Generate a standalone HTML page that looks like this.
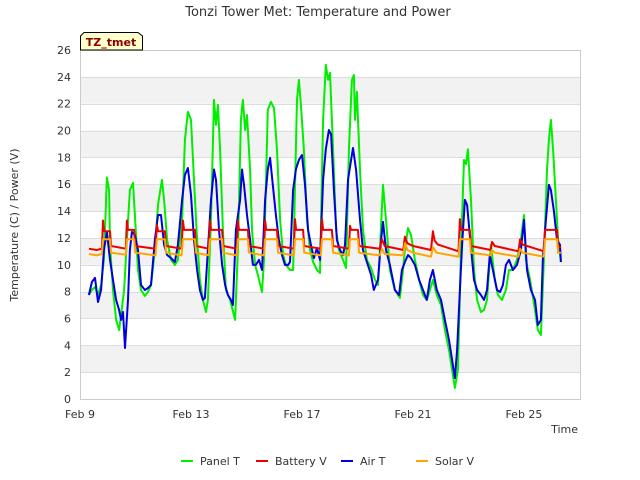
<!DOCTYPE html>
<html><head><meta charset="utf-8"><style>
body{margin:0;background:#fff;}
svg{display:block;font-family:"DejaVu Sans","Liberation Sans",sans-serif;}
</style></head><body>
<svg id="c" width="640" height="480" viewBox="0 0 640 480">
<text x="318" y="16" text-anchor="middle" font-size="13" fill="#333">Tonzi Tower Met: Temperature and Power</text>
<g id="bands"></g>
<g id="grid"></g>
<rect x="80.5" y="50.5" width="500" height="349" fill="none" stroke="#ccc"/>
<g id="yt"></g><g id="xt"></g>
<g id="series"></g>
<text transform="translate(18,225) rotate(-90)" text-anchor="middle" font-size="11" fill="#333">Temperature (C) / Power (V)</text>
<text x="578" y="433" text-anchor="end" font-size="11" fill="#333">Time</text>
<g>
<path d="M80.5,50 L80.5,36 L84,32.5 L138,32.5 L142.5,36 L142.5,50 Z" fill="#ffffcc" stroke="#000"/>
<text x="111" y="46" text-anchor="middle" font-size="11" font-weight="bold" fill="#8b0000">TZ_tmet</text>
</g>
<g id="legend"></g>
</svg>
<script>
const yTicks=[0,2,4,6,8,10,12,14,16,18,20,22,24,26];
const xTickDays=[0,4,8,12,16];
const xTickLabels=["Feb 9","Feb 13","Feb 17","Feb 21","Feb 25"];
const seriesNames=["Panel T","Battery V","Air T","Solar V"];
const seriesColors=["#00ee00","#ee0000","#0000dd","#ffa500"];
const panelT=[[0.32,7.75],[0.43,8.12],[0.54,8.35],[0.65,7.75],[0.76,8.49],[0.86,10.36],[0.97,16.5],[1.05,15.57],[1.08,11.48],[1.19,8.12],[1.30,5.89],[1.41,5.14],[1.48,6.26],[1.59,8.12],[1.69,11.85],[1.80,15.57],[1.91,16.1],[1.98,13.71],[2.09,9.61],[2.20,8.12],[2.34,7.68],[2.45,7.97],[2.56,8.49],[2.70,11.10],[2.81,14.46],[2.95,16.32],[3.03,14.83],[3.14,11.85],[3.28,10.36],[3.42,9.99],[3.53,10.36],[3.68,13.34],[3.78,19.30],[3.89,21.39],[4.00,20.79],[4.11,16.32],[4.22,11.85],[4.32,8.87],[4.43,7.38],[4.54,6.48],[4.61,7.38],[4.72,13.34],[4.83,22.28],[4.90,20.42],[4.97,21.91],[5.05,18.55],[5.15,12.59],[5.26,8.12],[5.41,7.38],[5.59,5.89],[5.69,11.10],[5.80,20.79],[5.87,22.28],[5.95,20.04],[6.02,21.16],[6.13,17.06],[6.20,12.59],[6.31,9.99],[6.41,9.24],[6.56,7.97],[6.63,10.36],[6.77,21.54],[6.88,22.13],[6.99,21.68],[7.10,18.55],[7.21,13.34],[7.32,10.73],[7.42,9.99],[7.57,9.61],[7.68,9.61],[7.82,22.28],[7.89,23.77],[7.96,21.91],[8.07,18.55],[8.18,13.34],[8.29,11.10],[8.40,10.21],[8.54,9.61],[8.65,9.39],[8.76,20.79],[8.86,24.89],[8.94,23.77],[9.01,24.3],[9.12,18.55],[9.23,12.59],[9.33,11.10],[9.48,10.36],[9.59,9.76],[9.69,18.55],[9.80,23.77],[9.87,24.14],[9.91,20.79],[9.98,22.88],[10.09,17.06],[10.20,12.59],[10.34,10.36],[10.49,9.76],[10.63,8.87],[10.74,8.49],[10.81,11.10],[10.92,15.95],[11.03,13.34],[11.17,9.61],[11.35,8.12],[11.53,7.53],[11.64,9.61],[11.71,11.10],[11.82,12.74],[11.93,12.22],[12.07,10.36],[12.22,8.87],[12.36,7.75],[12.50,7.38],[12.61,8.12],[12.72,8.87],[12.86,7.75],[13.01,7.00],[13.15,5.14],[13.30,3.65],[13.41,2.16],[13.51,0.82],[13.62,2.16],[13.73,11.10],[13.84,17.81],[13.91,17.5],[13.98,18.6],[14.09,14.83],[14.20,9.61],[14.31,7.38],[14.45,6.48],[14.56,6.63],[14.67,7.38],[14.81,11.48],[14.95,8.87],[15.06,7.75],[15.21,7.38],[15.35,8.12],[15.46,9.61],[15.60,9.61],[15.75,10.36],[15.89,11.85],[16.00,13.71],[16.07,10.36],[16.22,8.87],[16.40,6.63],[16.50,5.14],[16.61,4.77],[16.72,10.36],[16.83,17.06],[16.90,19.30],[16.97,20.79],[17.05,18.55],[17.15,14.83],[17.23,11.85],[17.33,10.21]];
const airT=[[0.32,7.75],[0.43,8.72],[0.54,9.02],[0.65,7.23],[0.76,8.12],[0.86,11.10],[0.97,12.44],[1.08,10.36],[1.19,8.87],[1.30,7.38],[1.41,6.63],[1.48,5.89],[1.55,6.48],[1.62,3.80],[1.73,7.38],[1.80,11.10],[1.87,12.44],[1.98,12.22],[2.09,11.10],[2.20,8.49],[2.34,8.12],[2.45,8.27],[2.56,8.49],[2.70,11.85],[2.81,13.71],[2.92,13.71],[3.03,11.48],[3.14,10.73],[3.28,10.5],[3.42,10.21],[3.53,11.48],[3.68,14.83],[3.78,16.69],[3.89,17.21],[4.00,15.20],[4.11,11.85],[4.22,9.61],[4.32,8.12],[4.43,7.38],[4.50,7.53],[4.61,11.10],[4.72,14.83],[4.83,17.1],[4.90,16.32],[5.01,12.59],[5.12,9.99],[5.23,8.49],[5.33,7.75],[5.44,7.38],[5.51,7.00],[5.62,12.59],[5.77,14.83],[5.84,17.1],[5.91,15.95],[6.02,13.71],[6.13,11.85],[6.23,9.99],[6.34,9.99],[6.45,10.36],[6.56,9.61],[6.67,14.83],[6.77,17.1],[6.85,17.96],[6.95,15.95],[7.06,13.71],[7.17,11.85],[7.28,10.73],[7.39,9.99],[7.50,9.99],[7.57,10.21],[7.68,15.57],[7.78,17.1],[7.89,17.81],[8.00,18.18],[8.11,15.95],[8.22,12.59],[8.32,11.48],[8.43,10.5],[8.54,11.25],[8.65,10.36],[8.76,16.32],[8.86,18.6],[8.97,20.04],[9.05,19.7],[9.15,15.57],[9.26,11.85],[9.37,11.10],[9.48,10.73],[9.55,11.48],[9.66,16.32],[9.77,17.81],[9.84,18.70],[9.95,17.06],[10.09,13.34],[10.20,11.10],[10.34,10.21],[10.49,9.24],[10.59,8.12],[10.74,8.87],[10.85,11.85],[10.92,13.19],[11.03,11.10],[11.17,9.99],[11.35,8.12],[11.50,7.75],[11.60,9.61],[11.71,10.21],[11.82,10.73],[11.93,10.5],[12.07,9.99],[12.22,8.87],[12.36,8.12],[12.50,7.38],[12.61,8.87],[12.72,9.61],[12.86,8.12],[13.01,7.38],[13.15,5.89],[13.30,4.40],[13.41,2.91],[13.51,1.56],[13.59,3.65],[13.69,8.12],[13.77,11.48],[13.87,14.83],[13.95,14.46],[14.05,12.22],[14.20,8.87],[14.31,8.12],[14.45,7.75],[14.56,7.38],[14.67,8.12],[14.77,10.73],[14.88,9.61],[15.03,8.12],[15.14,7.97],[15.24,8.49],[15.35,9.99],[15.46,10.36],[15.60,9.61],[15.75,9.99],[15.89,11.10],[16.00,13.34],[16.11,9.61],[16.25,8.12],[16.40,7.38],[16.50,5.51],[16.61,5.89],[16.68,10.36],[16.79,13.34],[16.90,15.95],[16.97,15.57],[17.08,14.0],[17.19,11.85],[17.30,11.48],[17.33,10.21]];
const batteryV=[[0.32,11.2],[0.6,11.1],[0.79,11.2],[0.83,13.3],[0.87,12.5],[1.08,12.5],[1.12,11.4],[1.65,11.2],[1.69,13.3],[1.73,12.6],[1.95,12.6],[1.99,11.4],[2.72,11.2],[2.77,13.0],[2.81,12.5],[3.06,12.5],[3.10,11.4],[3.66,11.2],[3.71,13.3],[3.75,12.6],[4.14,12.6],[4.18,11.4],[4.64,11.2],[4.68,13.3],[4.72,12.6],[5.12,12.6],[5.16,11.4],[5.65,11.2],[5.69,13.3],[5.73,12.6],[6.05,12.6],[6.09,11.4],[6.63,11.2],[6.67,13.3],[6.71,12.6],[7.10,12.6],[7.14,11.4],[7.71,11.2],[7.75,13.4],[7.79,12.6],[8.04,12.6],[8.08,11.4],[8.68,11.2],[8.72,13.4],[8.76,12.6],[9.08,12.6],[9.12,11.4],[9.69,11.2],[9.73,12.9],[9.77,12.6],[10.02,12.6],[10.06,11.4],[10.80,11.2],[10.88,11.9],[10.98,11.4],[11.65,11.1],[11.71,12.1],[11.80,11.6],[12.00,11.4],[12.65,11.1],[12.72,12.5],[12.78,11.8],[12.90,11.5],[13.64,11.0],[13.69,13.4],[13.73,12.6],[14.05,12.6],[14.09,11.4],[14.80,11.1],[14.85,11.7],[14.95,11.4],[15.80,11.0],[15.86,11.9],[15.95,11.5],[16.72,11.0],[16.76,12.6],[17.19,12.6],[17.23,11.4],[17.33,11.3]];
const solarV=[[0.32,10.8],[0.6,10.7],[0.79,10.8],[0.83,11.9],[1.08,11.9],[1.12,10.9],[1.65,10.75],[1.69,11.9],[1.95,11.9],[1.99,10.9],[2.72,10.7],[2.77,11.9],[3.06,11.9],[3.10,10.9],[3.66,10.7],[3.71,11.9],[4.14,11.9],[4.18,10.9],[4.64,10.7],[4.68,11.9],[5.12,11.9],[5.16,10.9],[5.65,10.7],[5.69,11.9],[6.05,11.9],[6.09,10.9],[6.63,10.7],[6.67,11.9],[7.10,11.9],[7.14,10.9],[7.71,10.7],[7.75,11.9],[8.04,11.9],[8.08,10.9],[8.68,10.7],[8.72,11.9],[9.08,11.9],[9.12,10.9],[9.69,10.7],[9.73,11.9],[10.02,11.9],[10.06,10.9],[10.80,10.7],[10.88,11.2],[10.98,10.8],[11.65,10.7],[11.71,11.6],[11.80,11.1],[12.00,10.9],[12.65,10.6],[12.72,11.3],[12.85,10.9],[13.64,10.6],[13.69,11.9],[14.05,11.9],[14.09,10.9],[14.80,10.7],[14.85,11.1],[14.95,10.9],[15.80,10.6],[15.86,11.2],[15.95,10.9],[16.72,10.6],[16.76,11.9],[17.19,11.9],[17.23,10.9],[17.33,10.9]];
const allSeries=[panelT,batteryV,airT,solarV];

const NS="http://www.w3.org/2000/svg";
const X0=80,X1=580,Y0=399,Y1=50,DMAX=18.02,VMAX=26;
function sx(d){return X0+(X1-X0)*d/DMAX;}
function sy(v){return Y0-(Y0-Y1)*v/VMAX;}
function mk(tag,attrs,parent){const e=document.createElementNS(NS,tag);for(const k in attrs)e.setAttribute(k,attrs[k]);parent.appendChild(e);return e;}
const bands=document.getElementById('bands'),grid=document.getElementById('grid'),yt=document.getElementById('yt'),xt=document.getElementById('xt');
for(let i=0;i<yTicks.length-1;i++){
  if(i%2===1){const r=mk('rect',{x:X0,y:sy(yTicks[i+1]),width:X1-X0,height:sy(yTicks[i])-sy(yTicks[i+1]),fill:'#f2f2f2'},bands);
  
  }
}
yTicks.forEach(v=>{
  const l=mk('line',{x1:X0,x2:X1,y1:Math.round(sy(v))+0.5,y2:Math.round(sy(v))+0.5,stroke:'#dddddd'},grid);
  
  
  const t=mk('text',{x:71,y:sy(v)+4,'text-anchor':'end','font-size':11,fill:'#333'},yt);
  t.textContent=v;
  
  
});
xTickDays.forEach((d,i)=>{
  const t=mk('text',{x:sx(d),y:418,'text-anchor':'middle','font-size':11,fill:'#333'},xt);
  t.textContent=xTickLabels[i];
  
  
});
const sg=document.getElementById('series');
[0,2,1,3].forEach(i=>{
  const pts=allSeries[i].map(p=>sx(p[0]).toFixed(1)+','+sy(p[1]).toFixed(1)).join(' ');
  const pl=mk('polyline',{points:pts,fill:'none',stroke:seriesColors[i],'stroke-width':2,'stroke-linejoin':'round'},sg);
  
  
});
// order in image: green drawn first, blue over it; red/orange on top
const lg=document.getElementById('legend');
const legX=[181,256,341,416];
seriesNames.forEach((n,i)=>{
  const g=mk('g',{},lg);
  
  
  mk('line',{x1:legX[i],x2:legX[i]+12,y1:461,y2:461,stroke:seriesColors[i],'stroke-width':2},g);
  const t=mk('text',{x:legX[i]+19,y:465,'font-size':11,fill:'#333'},g);
  t.textContent=n;
});
</script>
</body></html>
